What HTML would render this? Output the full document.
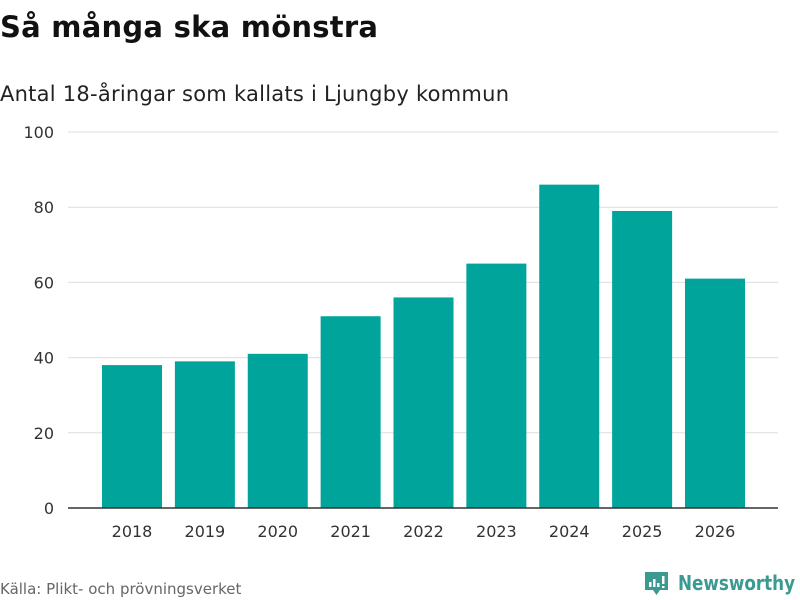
<!DOCTYPE html>
<html><head><meta charset="utf-8">
<style>
body{margin:0;background:#fff;font-family:"Liberation Sans","DejaVu Sans",sans-serif;}
#wrap{position:relative;width:800px;height:600px;overflow:hidden;}
</style></head>
<body>
<div id="wrap">
<svg id="chart" width="800" height="600">
<text x="0" y="37" font-size="29" font-weight="bold" fill="#111" font-family="DejaVu Sans, sans-serif" textLength="378">Så många ska mönstra</text>
<text x="0" y="101" font-size="21" fill="#222" font-family="DejaVu Sans, sans-serif" textLength="509">Antal 18-åringar som kallats i Ljungby kommun</text>
<g id="grid"></g><g id="bars"></g><g id="xlabels"></g>
<line x1="68" x2="778" y1="508" y2="508" stroke="#333" stroke-width="1.5"/>
<text x="0" y="594" font-size="15" fill="#666" font-family="DejaVu Sans, sans-serif">Källa: Plikt- och prövningsverket</text>
<g>
<path d="M645 572 h23 v18 h-8 l-3.5 5 l-3.5 -5 h-8 z" fill="#3a9a90"/>
<rect x="649" y="582" width="2.5" height="5" fill="#fff"/>
<rect x="653" y="579" width="2.5" height="8" fill="#fff"/>
<rect x="657" y="583" width="2.5" height="4" fill="#fff"/>
<rect x="662" y="576" width="2.5" height="8" fill="#fff"/>
<rect x="662" y="586" width="2.5" height="2" fill="#fff"/>
<text x="678" y="590" font-size="20" font-weight="bold" fill="#3a9a90" font-family="DejaVu Sans, sans-serif" textLength="117" lengthAdjust="spacingAndGlyphs">Newsworthy</text>
</g>
</svg>
</div>
<script>
const categories=["2018","2019","2020","2021","2022","2023","2024","2025","2026"];
const values=[38,39,41,51,56,65,86,79,61];
const yTicks=[0,20,40,60,80,100];
const NS="http://www.w3.org/2000/svg";
const y=v=>508-v*3.76;
const xc=i=>132+i*72.875;
const g=document.getElementById("grid"),b=document.getElementById("bars"),xl=document.getElementById("xlabels");
function mk(tag,attrs){const e=document.createElementNS(NS,tag);for(const k in attrs)e.setAttribute(k,attrs[k]);return e;}
yTicks.forEach(t=>{
  if(t>0){const l=mk("line",{x1:68,x2:778,y1:y(t),y2:y(t),stroke:"#ddd","stroke-width":1});
  
  
  g.appendChild(l);}
  const tx=mk("text",{x:54,y:y(t)+6,"font-size":16,fill:"#333","text-anchor":"end","font-family":"DejaVu Sans, sans-serif"});
  tx.textContent=t;
  
  
  g.appendChild(tx);
});
categories.forEach((c,i)=>{
  const r=mk("rect",{x:xc(i)-30,y:y(values[i]),width:60,height:values[i]*3.76,fill:"#00a49a"});
  
  
  b.appendChild(r);
  const tx=mk("text",{x:xc(i),y:537,"font-size":16,fill:"#333","text-anchor":"middle","font-family":"DejaVu Sans, sans-serif"});
  tx.textContent=c;
  
  
  xl.appendChild(tx);
});
</script>
</body></html>
